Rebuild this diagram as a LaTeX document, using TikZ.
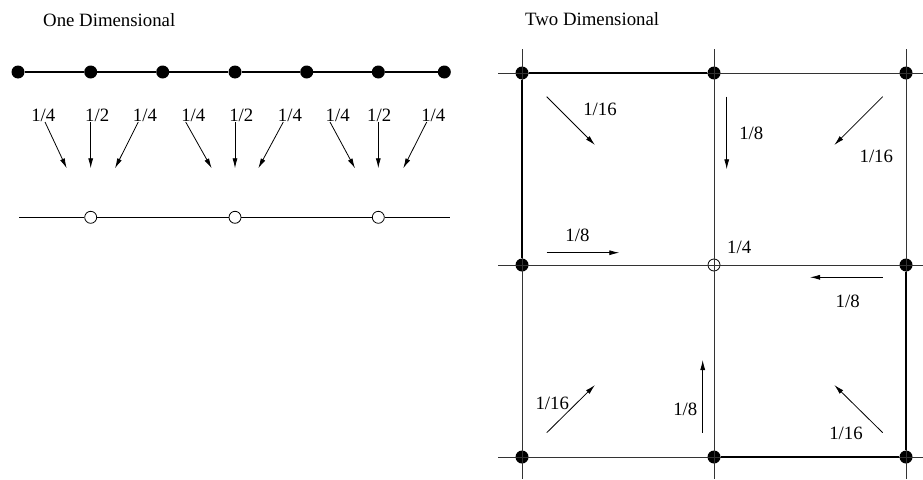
\documentclass[tikz,border=0pt]{standalone}
\usepackage{fontspec}
\setmainfont{Liberation Serif}
\usetikzlibrary{arrows.meta}

\newcommand{\wtfont}{\fontsize{18.8}{22}\selectfont}

\begin{document}
\begin{tikzpicture}[x=1pt, y=-1pt,
  dot/.style={circle, fill, inner sep=0pt, minimum size=13pt},
  hole/.style={circle, draw, line width=0.8pt, inner sep=0pt, minimum size=12pt},
  lbl/.style={anchor=base, inner sep=0pt, font=\wtfont},
  arr/.style={-{Latex[length=10pt,width=5pt]}, line width=0.8pt},
  axis/.style={line width=1.2pt},
  thin/.style={line width=0.75pt, black!80},
  thick/.style={line width=1.15pt}]
  \useasboundingbox (0,0) rectangle (923,479);

  % one dimensional
  \node[lbl, anchor=base west] (title1) at (43,26) {One Dimensional};
  \node[dot] (f1) at (18,72) {};
  \node[dot] (f2) at (90.7,72) {};
  \node[dot] (f3) at (162.7,72) {};
  \node[dot] (f4) at (235,72) {};
  \node[dot] (f5) at (306.7,72) {};
  \node[dot] (f6) at (378.3,72) {};
  \node[dot] (f7) at (444.3,72) {};
  \draw[axis] (f1) -- (f2) -- (f3) -- (f4) -- (f5) -- (f6) -- (f7);

  \coordinate (cl) at (19,217.3);
  \coordinate (cr) at (450,217.3);
  \node[hole, fill=white] (c1) at (90.7,217.3) {};
  \node[hole, fill=white] (c2) at (235,217.3) {};
  \node[hole, fill=white] (c3) at (378.3,217.3) {};
  \draw[axis] (cl) -- (c1) -- (c2) -- (c3) -- (cr);

  \node[lbl] (w1) at (43.3,121.5) {1/4};
  \node[lbl] (w2) at (97.2,121.5) {1/2};
  \node[lbl] (w3) at (145,121.5) {1/4};
  \node[lbl] (w4) at (193.3,121.5) {1/4};
  \node[lbl] (w5) at (241.3,121.5) {1/2};
  \node[lbl] (w6) at (290,121.5) {1/4};
  \node[lbl] (w7) at (337.7,121.5) {1/4};
  \node[lbl] (w8) at (379.2,121.5) {1/2};
  \node[lbl] (w9) at (433.3,121.5) {1/4};

  \coordinate (p1) at (45,122);    \coordinate (q1) at (66.7,168.3);
  \coordinate (p2) at (90.7,122);  \coordinate (q2) at (90.7,168.3);
  \coordinate (p3) at (138.3,122); \coordinate (q3) at (115,168.3);
  \coordinate (p4) at (185.7,122); \coordinate (q4) at (211.7,168.3);
  \coordinate (p5) at (235,122);   \coordinate (q5) at (235,168.3);
  \coordinate (p6) at (283.3,122); \coordinate (q6) at (258.3,168.3);
  \coordinate (p7) at (330,122);   \coordinate (q7) at (355,168.3);
  \coordinate (p8) at (378.3,122); \coordinate (q8) at (378.3,168.3);
  \coordinate (p9) at (426.7,122); \coordinate (q9) at (403.3,168.3);
  \draw[arr] (p1) -- (q1);
  \draw[arr] (p2) -- (q2);
  \draw[arr] (p3) -- (q3);
  \draw[arr] (p4) -- (q4);
  \draw[arr] (p5) -- (q5);
  \draw[arr] (p6) -- (q6);
  \draw[arr] (p7) -- (q7);
  \draw[arr] (p8) -- (q8);
  \draw[arr] (p9) -- (q9);

  % two dimensional
  \node[lbl, anchor=base west] (title2) at (525,25) {Two Dimensional};
  \node[dot] (n11) at (522,73) {};
  \node[dot] (n12) at (714,73) {};
  \node[dot] (n13) at (906,73) {};
  \node[dot] (n21) at (522,265) {};
  \node[hole] (n22) at (714,265) {};
  \node[dot] (n23) at (906,265) {};
  \node[dot] (n31) at (522,457) {};
  \node[dot] (n32) at (714,457) {};
  \node[dot] (n33) at (906,457) {};

  \coordinate (t1) at (522,49);  \coordinate (b1) at (522,479);
  \coordinate (t2) at (714,49);  \coordinate (b2) at (714,479);
  \coordinate (t3) at (906,49);  \coordinate (b3) at (906,479);
  \coordinate (l1) at (498,73);  \coordinate (r1) at (923,73);
  \coordinate (l2) at (498,265); \coordinate (r2) at (923,265);
  \coordinate (l3) at (498,457); \coordinate (r3) at (923,457);
  \draw[thin] (t1) -- (b1);
  \draw[thin] (t2) -- (b2);
  \draw[thin] (t3) -- (b3);
  \draw[thin] (l1) -- (r1);
  \draw[thin] (l2) -- (r2);
  \draw[thin] (l3) -- (r3);
  \draw[thick] (n11) -- (n12);
  \draw[thick] (n11) -- (n21);
  \draw[thick] (n32) -- (n33);
  \draw[thick] (n23) -- (n33);

  \coordinate (s1) at (546.7,96.7);  \coordinate (e1) at (595,145);
  \coordinate (s2) at (726.7,96.7);  \coordinate (e2) at (726.7,169.3);
  \coordinate (s3) at (882.7,96.7);  \coordinate (e3) at (834.3,145);
  \coordinate (s4) at (546.7,252.7); \coordinate (e4) at (619.3,252.7);
  \coordinate (s5) at (882.7,277.3); \coordinate (e5) at (810,277.3);
  \coordinate (s6) at (546.7,432.7); \coordinate (e6) at (595,385);
  \coordinate (s7) at (702.7,432.7); \coordinate (e7) at (702.7,360);
  \coordinate (s8) at (882.7,432.7); \coordinate (e8) at (834.3,385);
  \draw[arr] (s1) -- (e1);
  \draw[arr] (s2) -- (e2);
  \draw[arr] (s3) -- (e3);
  \draw[arr] (s4) -- (e4);
  \draw[arr] (s5) -- (e5);
  \draw[arr] (s6) -- (e6);
  \draw[arr] (s7) -- (e7);
  \draw[arr] (s8) -- (e8);

  \node[lbl] (m1) at (600,115) {1/16};
  \node[lbl] (m2) at (751.3,139.3) {1/8};
  \node[lbl] (m3) at (876.3,162.7) {1/16};
  \node[lbl] (m4) at (577.5,241.7) {1/8};
  \node[lbl] (m5) at (739.2,253.3) {1/4};
  \node[lbl] (m6) at (847.7,307.3) {1/8};
  \node[lbl] (m7) at (552.3,409) {1/16};
  \node[lbl] (m8) at (685.3,415.3) {1/8};
  \node[lbl] (m9) at (846,439) {1/16};
\end{tikzpicture}
\end{document}
